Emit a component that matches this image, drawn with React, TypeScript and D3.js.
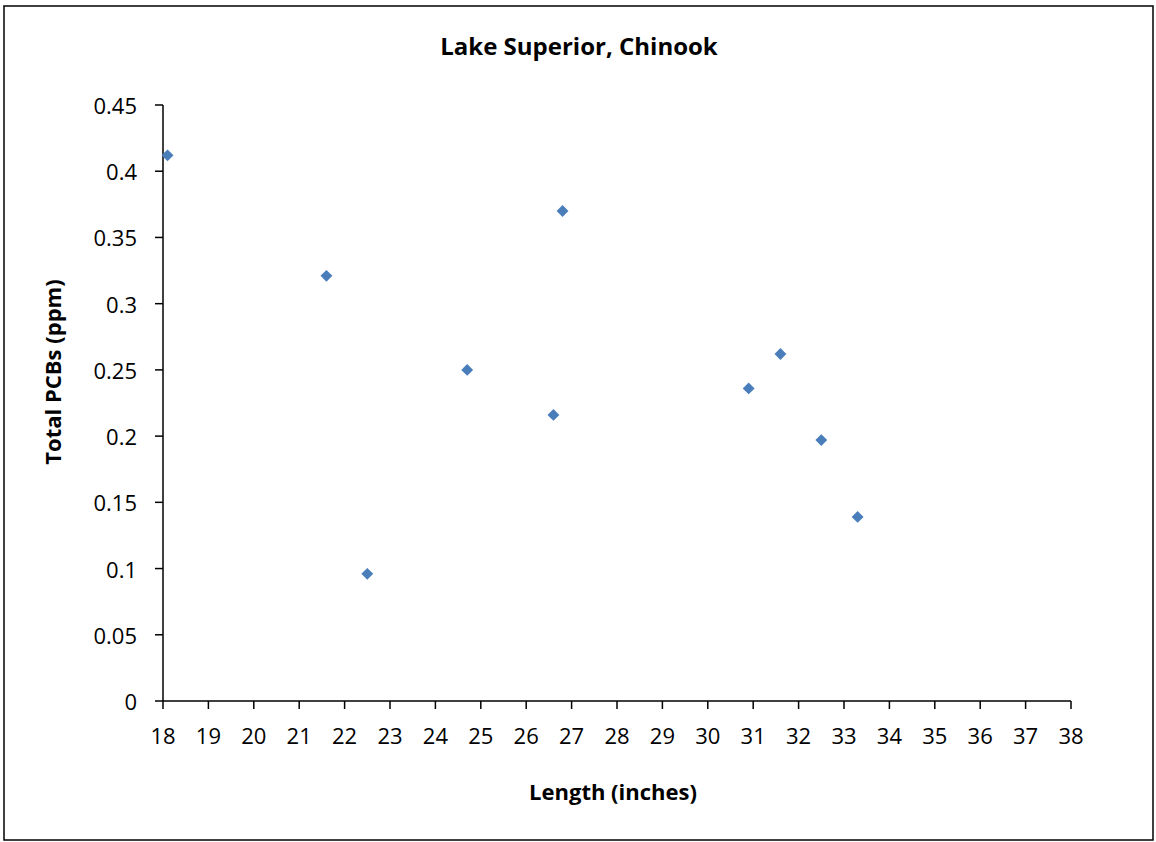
import React from "react";
import * as d3 from "d3";

const lengths = [18.1, 21.6, 22.5, 24.7, 26.6, 26.8, 30.9, 31.6, 32.5, 33.3];
const pcbs = [0.412, 0.321, 0.096, 0.25, 0.216, 0.37, 0.236, 0.262, 0.197, 0.139];
const xTicks = d3.range(18, 39, 1);
const yTicks = [0, 0.05, 0.1, 0.15, 0.2, 0.25, 0.3, 0.35, 0.4, 0.45];
const title = "Lake Superior, Chinook";
const xTitle = "Length (inches)";
const yTitle = "Total PCBs (ppm)";

const W = 1156, H = 842;
const FONT = "'Open Sans', sans-serif";

export default function App() {
  const x = d3.scaleLinear().domain([18, 38]).range([163, 1071]);
  const y = d3.scaleLinear().domain([0, 0.45]).range([701, 105]);
  const diamond = d3.symbol().type(d3.symbolDiamond2).size(90)();
  return (
    <svg width={W} height={H} style={{ position: "absolute", left: 0, top: 0 }}>
      <rect x={0} y={0} width={W} height={H} fill="#fff" />
      <rect x={4} y={6} width={1149} height={834} fill="none" stroke="#000" strokeWidth={1.5} />
      <text x={579} y={45} textAnchor="middle" dominantBaseline="central" fontFamily={FONT} fontWeight="bold" fontSize={24}>{title}</text>
      {/* y axis */}
      <line x1={x(18)} x2={x(18)} y1={y(0)} y2={y(0.45)} stroke="#000" strokeWidth={1.5} />
      {yTicks.map((t) => (
        <g key={"y" + t}>
          <line x1={x(18) - 8} x2={x(18)} y1={y(t)} y2={y(t)} stroke="#000" strokeWidth={1.5} />
          <text x={137} y={y(t)} textAnchor="end" dominantBaseline="central" fontFamily={FONT} fontSize={22}>{String(t)}</text>
        </g>
      ))}
      {/* x axis */}
      <line x1={x(18)} x2={x(38)} y1={y(0)} y2={y(0)} stroke="#000" strokeWidth={1.5} />
      {xTicks.map((t) => (
        <g key={"x" + t}>
          <line x1={x(t)} x2={x(t)} y1={y(0)} y2={y(0) + 8} stroke="#000" strokeWidth={1.5} />
          <text x={x(t)} y={735} textAnchor="middle" dominantBaseline="central" fontFamily={FONT} fontSize={22}>{String(t)}</text>
        </g>
      ))}
      <text x={613} y={791} textAnchor="middle" dominantBaseline="central" fontFamily={FONT} fontWeight="bold" fontSize={22}>{xTitle}</text>
      <text transform={`translate(52,372) rotate(-90)`} textAnchor="middle" dominantBaseline="central" fontFamily={FONT} fontWeight="bold" fontSize={22}>{yTitle}</text>
      {lengths.map((l, i) => (
        <path key={i} d={diamond} transform={`translate(${x(l)},${y(pcbs[i])})`} fill="#4A7EBB" />
      ))}
    </svg>
  );
}
